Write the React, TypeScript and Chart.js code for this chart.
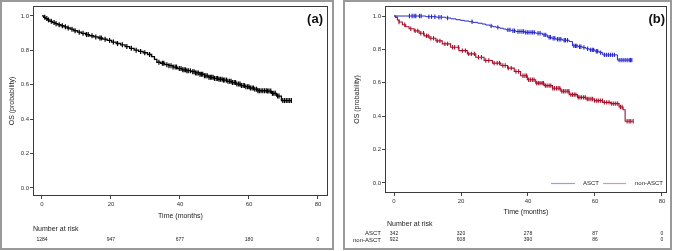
import React, { useEffect, useRef } from 'react';
import { Chart, registerables } from 'chart.js';

Chart.register(...registerables);

// ---------- shared axis ticks ----------
const xTicks = [0, 20, 40, 60, 80];
const yTicks = [0, 0.2, 0.4, 0.6, 0.8, 1.0];

// ---------- panel (a): all patients ----------
const allTimes = [0, 0.5, 1.0, 1.6, 2.3, 3.0, 3.8, 4.6, 5.5, 6.4, 7.3, 8.2, 9.2, 10.3, 11.4, 12.6, 13.8, 15.0, 16.3, 17.6, 18.9, 20.2, 21.5, 22.8, 24.1, 25.4, 26.7, 28.0, 29.3, 30.6, 31.8, 32.6, 33.3, 34.4, 35.6, 36.8, 38.0, 39.3, 40.6, 41.9, 43.2, 44.5, 45.8, 47.1, 48.4, 49.7, 51.0, 52.3, 53.6, 54.9, 56.2, 57.5, 58.8, 60.1, 61.4, 62.6, 65.1, 66.5, 68.0, 69.4, 72.3];
const allSurv = [1.0, 0.992, 0.985, 0.977, 0.969, 0.962, 0.955, 0.949, 0.943, 0.937, 0.930, 0.923, 0.914, 0.906, 0.899, 0.892, 0.885, 0.878, 0.872, 0.865, 0.858, 0.848, 0.840, 0.832, 0.822, 0.812, 0.801, 0.794, 0.786, 0.776, 0.764, 0.748, 0.731, 0.725, 0.717, 0.711, 0.703, 0.694, 0.687, 0.682, 0.676, 0.669, 0.661, 0.652, 0.643, 0.637, 0.632, 0.627, 0.620, 0.613, 0.604, 0.595, 0.589, 0.581, 0.574, 0.565, 0.563, 0.550, 0.534, 0.508, 0.508];
const allCensor = [0.8, 1.4, 1.9, 2.7, 3.5, 4.1, 5.0, 5.9, 6.8, 7.6, 8.7, 9.6, 10.8, 11.9, 12.9, 13.4, 14.5, 15.6, 16.8, 17.2, 18.3, 19.6, 20.7, 21.9, 23.3, 24.6, 25.9, 27.3, 28.6, 29.8, 31.2, 33.9, 34.9, 35.3, 36.2, 36.8, 37.4, 38.0, 38.6, 39.0, 39.8, 40.3, 40.8, 41.2, 41.6, 42.0, 42.4, 43.0, 43.7, 44.1, 44.5, 44.9, 45.3, 45.8, 46.2, 46.6, 47.1, 47.5, 47.9, 48.4, 48.8, 49.2, 49.6, 50.0, 50.5, 50.9, 51.3, 51.7, 52.2, 52.6, 53.0, 53.5, 53.9, 54.4, 54.8, 55.2, 55.7, 56.1, 56.5, 57.0, 57.4, 57.8, 58.3, 58.7, 59.1, 59.6, 60.0, 60.4, 60.9, 61.3, 61.7, 62.2, 62.6, 63.0, 63.5, 64.0, 64.5, 65.0, 65.4, 65.8, 66.3, 66.8, 67.2, 67.6, 68.3, 68.7, 69.8, 70.3, 70.8, 71.3, 71.8, 72.3];
const allAtRisk = [1284, 947, 677, 180, 0];

// ---------- panel (b): ASCT vs non-ASCT ----------
const groupNames = ['ASCT', 'non-ASCT'];

const asctTimes = [0, 9.5, 12.6, 15.4, 17.0, 18.5, 19.8, 21.0, 22.4, 23.6, 25.0, 26.3, 27.4, 28.6, 29.5, 30.5, 31.6, 32.6, 33.5, 35.0, 36.4, 39.0, 42.3, 44.3, 45.8, 47.0, 48.3, 50.3, 52.3, 53.3, 55.0, 56.3, 57.3, 58.3, 60.0, 61.3, 62.3, 66.7, 71.0];
const asctSurv = [1.0, 0.996, 0.993, 0.988, 0.983, 0.978, 0.974, 0.970, 0.966, 0.962, 0.957, 0.952, 0.946, 0.941, 0.936, 0.932, 0.927, 0.922, 0.917, 0.912, 0.907, 0.902, 0.897, 0.887, 0.873, 0.867, 0.861, 0.855, 0.847, 0.821, 0.816, 0.811, 0.804, 0.797, 0.789, 0.781, 0.767, 0.736, 0.736];
const asctCensor = [4.6, 5.4, 6.0, 6.5, 7.6, 8.1, 10.4, 11.2, 12.2, 13.4, 14.1, 16.0, 23.3, 29.0, 31.0, 34.0, 34.6, 35.5, 36.0, 37.0, 37.6, 38.2, 38.7, 39.3, 39.8, 40.3, 40.9, 41.4, 41.9, 43.0, 43.6, 44.8, 45.3, 46.3, 46.7, 47.5, 48.0, 48.8, 49.3, 49.8, 50.8, 51.2, 51.8, 53.7, 54.2, 54.6, 55.4, 55.8, 56.7, 57.8, 58.7, 59.2, 59.6, 60.4, 60.8, 61.7, 62.8, 63.4, 64.0, 64.6, 65.2, 65.8, 67.2, 67.8, 68.4, 69.0, 69.6, 70.2, 70.6, 71.0];
const asctAtRisk = [342, 320, 278, 87, 0];

const nonTimes = [0, 0.5, 1.0, 1.5, 2.5, 3.5, 4.5, 6.0, 7.5, 9.0, 10.5, 12.5, 14.4, 16.9, 19.4, 21.9, 24.4, 26.9, 29.4, 31.9, 33.9, 35.9, 37.8, 39.8, 42.3, 44.8, 47.3, 49.8, 52.3, 54.8, 57.3, 59.8, 62.3, 64.7, 67.2, 68.4, 69.0, 71.4];
const nonSurv = [1.0, 0.992, 0.976, 0.964, 0.948, 0.936, 0.924, 0.911, 0.897, 0.881, 0.867, 0.851, 0.833, 0.813, 0.793, 0.773, 0.753, 0.734, 0.718, 0.704, 0.688, 0.668, 0.642, 0.618, 0.598, 0.583, 0.567, 0.549, 0.529, 0.513, 0.503, 0.493, 0.483, 0.475, 0.455, 0.439, 0.370, 0.370];
const nonCensor = [1.5, 3.2, 5.0, 6.3, 7.1, 8.0, 8.8, 9.7, 10.2, 11.0, 11.8, 12.9, 13.7, 15.2, 16.0, 17.5, 18.1, 19.2, 20.4, 21.3, 22.3, 23.1, 24.0, 25.2, 26.1, 27.4, 28.3, 29.9, 30.8, 31.5, 32.5, 33.2, 34.1, 35.0, 36.4, 37.2, 38.5, 39.1, 39.6, 40.2, 40.7, 41.3, 41.8, 42.6, 43.1, 43.6, 44.2, 44.6, 45.2, 45.7, 46.3, 46.8, 47.4, 47.9, 48.5, 49.0, 49.5, 50.1, 50.6, 51.1, 51.7, 52.2, 52.8, 53.3, 53.8, 54.3, 55.0, 55.5, 56.0, 56.6, 57.1, 57.7, 58.2, 58.8, 59.3, 59.9, 60.5, 61.0, 61.6, 62.2, 62.8, 63.5, 64.2, 65.0, 65.6, 66.2, 66.8, 67.6, 68.1, 69.6, 70.2, 70.7, 71.4];
const nonAtRisk = [922, 608, 390, 86, 0];

// ---------- helpers ----------
const FONT = 'Liberation Sans';

function stepAt(times: number[], surv: number[], t: number) {
  let v = surv[0];
  for (let i = 0; i < times.length; i++) {
    if (times[i] <= t) v = surv[i];
    else break;
  }
  return v;
}

function curveDataset(times: number[], surv: number[], color: string, w: number) {
  return {
    type: 'line' as const,
    data: times.map((t, i) => ({ x: t, y: surv[i] })),
    stepped: true,
    borderColor: color,
    borderWidth: w,
    pointRadius: 0,
    fill: false,
  };
}

function censorDataset(times: number[], surv: number[], censor: number[], color: string, r: number, w: number) {
  return {
    type: 'line' as const,
    data: censor.map((t) => ({ x: t, y: stepAt(times, surv, t) })),
    showLine: false,
    pointStyle: 'line',
    pointRotation: 90,
    pointRadius: r,
    pointBorderColor: color,
    pointBorderWidth: w,
    borderColor: color,
    backgroundColor: color,
  };
}

type Geo = {
  padRight: number; padTop: number; padBottom: number;
  yWidth: number; xHeight: number;
  xMin: number; xMax: number; yMin: number; yMax: number;
  yTitlePad: number; xTitlePad: number; xTickPad: number;
};

function makeOptions(g: Geo) {
  return {
    animation: false,
    responsive: false,
    events: [],
    layout: { padding: { left: 0, top: g.padTop, right: g.padRight, bottom: g.padBottom } },
    plugins: { legend: { display: false }, tooltip: { enabled: false } },
    scales: {
      x: {
        type: 'linear',
        min: g.xMin,
        max: g.xMax,
        afterBuildTicks: (s: any) => { s.ticks = xTicks.map((v) => ({ value: v })); },
        afterFit: (s: any) => { s.height = g.xHeight; },
        ticks: { padding: g.xTickPad, color: '#333', font: { family: FONT, size: 6 }, maxRotation: 0, callback: (v: any) => String(v) },
        grid: { display: true, drawOnChartArea: false, drawTicks: true, tickLength: 3, color: '#444' },
        border: { display: false },
        title: { display: true, text: 'Time (months)', color: '#222', font: { family: FONT, size: 7 }, padding: { top: 0, bottom: g.xTitlePad } },
      },
      y: {
        type: 'linear',
        min: g.yMin,
        max: g.yMax,
        afterBuildTicks: (s: any) => { s.ticks = yTicks.map((v) => ({ value: v })); },
        afterFit: (s: any) => { s.width = g.yWidth; },
        ticks: { padding: 1, color: '#333', font: { family: FONT, size: 6 }, callback: (v: any) => Number(v).toFixed(1) },
        grid: { display: true, drawOnChartArea: false, drawTicks: true, tickLength: 3, color: '#444' },
        border: { display: false },
        title: { display: true, text: 'OS (probability)', color: '#222', font: { family: FONT, size: 7 }, padding: { top: g.yTitlePad, bottom: 0 } },
      },
    },
  } as any;
}

function framePlugin(label: string, labelRight: number, drawExtra: (chart: any, ctx: CanvasRenderingContext2D) => void) {
  return {
    id: 'frame' + label,
    afterDraw(chart: any) {
      const ctx: CanvasRenderingContext2D = chart.ctx;
      const a = chart.chartArea;
      ctx.save();
      ctx.strokeStyle = '#3a3a3a';
      ctx.lineWidth = 1;
      ctx.strokeRect(Math.round(a.left) + 0.5, Math.round(a.top) + 0.5, Math.round(a.right - a.left) - 1, Math.round(a.bottom - a.top) - 1);
      ctx.fillStyle = '#111';
      ctx.font = `bold 13px "${FONT}"`;
      ctx.textAlign = 'right';
      ctx.textBaseline = 'middle';
      ctx.fillText(label, labelRight, 19);
      drawExtra(chart, ctx);
      ctx.restore();
    },
  };
}

export default function App() {
  const refA = useRef<HTMLCanvasElement>(null);
  const refB = useRef<HTMLCanvasElement>(null);

  useEffect(() => {
    const chartA = new Chart(refA.current as HTMLCanvasElement, {
      type: 'line',
      data: {
        datasets: [
          curveDataset(allTimes, allSurv, '#000', 1.3),
          censorDataset(allTimes, allSurv, allCensor, '#000', 2.5, 1.2),
        ],
      },
      options: makeOptions({
        padRight: 8, padTop: 6, padBottom: 29, yWidth: 33, xHeight: 26,
        xMin: -2.6, xMax: 82.9, yMin: -0.047, yMax: 1.058,
        yTitlePad: 7.8, xTitlePad: 1.8, xTickPad: 2,
      }),
      plugins: [
        framePlugin('(a)', 323, (chart, ctx) => {
          const xs = chart.scales.x;
          ctx.fillStyle = '#222';
          ctx.textBaseline = 'middle';
          ctx.textAlign = 'left';
          ctx.font = `7px "${FONT}"`;
          ctx.fillText('Number at risk', 33, 229);
          ctx.textAlign = 'center';
          ctx.font = `5px "${FONT}"`;
          allAtRisk.forEach((n, i) => ctx.fillText(String(n), xs.getPixelForValue(xTicks[i]), 240));
        }),
      ],
    } as any);

    const blue = '#2626cc';
    const red = '#a6102c';
    const chartB = new Chart(refB.current as HTMLCanvasElement, {
      type: 'line',
      data: {
        datasets: [
          curveDataset(asctTimes, asctSurv, blue, 1),
          censorDataset(asctTimes, asctSurv, asctCensor, blue, 2.2, 1.1),
          curveDataset(nonTimes, nonSurv, red, 1.1),
          censorDataset(nonTimes, nonSurv, nonCensor, red, 2.2, 1.1),
        ],
      },
      options: makeOptions({
        padRight: 9, padTop: 6, padBottom: 32, yWidth: 47, xHeight: 26,
        xMin: -2.69, xMax: 81.5, yMin: -0.06, yMax: 1.06,
        yTitlePad: 15.3, xTitlePad: 2.5, xTickPad: 1.4,
      }),
      plugins: [
        framePlugin('(b)', 327, (chart, ctx) => {
          const xs = chart.scales.x;
          // legend inside plot area
          ctx.lineWidth = 1.2;
          ctx.strokeStyle = '#9c9ce0';
          ctx.beginPath(); ctx.moveTo(213, 183.5); ctx.lineTo(237, 183.5); ctx.stroke();
          ctx.strokeStyle = '#d79aa6';
          ctx.beginPath(); ctx.moveTo(265, 183.5); ctx.lineTo(288, 183.5); ctx.stroke();
          ctx.fillStyle = '#222';
          ctx.textBaseline = 'middle';
          ctx.textAlign = 'left';
          ctx.font = `6px "${FONT}"`;
          ctx.fillText(groupNames[0], 245, 183);
          ctx.fillText(groupNames[1], 297, 183);
          // number at risk table
          ctx.font = `7px "${FONT}"`;
          ctx.fillText('Number at risk', 49, 224);
          ctx.textAlign = 'right';
          ctx.font = `6px "${FONT}"`;
          ctx.fillText(groupNames[0], 43, 233.5);
          ctx.fillText(groupNames[1], 43, 240);
          ctx.textAlign = 'center';
          ctx.font = `5px "${FONT}"`;
          asctAtRisk.forEach((n, i) => ctx.fillText(String(n), xs.getPixelForValue(xTicks[i]), 233.5));
          nonAtRisk.forEach((n, i) => ctx.fillText(String(n), xs.getPixelForValue(xTicks[i]), 240));
        }),
      ],
    } as any);

    return () => {
      chartA.destroy();
      chartB.destroy();
    };
  }, []);

  return (
    <div style={{ position: 'fixed', left: 0, top: 0, width: 676, height: 251, background: '#fff', overflow: 'hidden' }}>
      <canvas ref={refA} width={336} height={251} style={{ position: 'absolute', left: 0, top: 0, width: 336, height: 251 }} />
      <canvas ref={refB} width={338} height={251} style={{ position: 'absolute', left: 338, top: 0, width: 338, height: 251 }} />
      <div style={{ position: 'absolute', left: 0, top: 0, width: 334, height: 250, boxSizing: 'border-box', border: '2px solid #999', pointerEvents: 'none' }} />
      <div style={{ position: 'absolute', left: 343, top: 0, width: 329, height: 250, boxSizing: 'border-box', border: '2px solid #999', pointerEvents: 'none' }} />
    </div>
  );
}
